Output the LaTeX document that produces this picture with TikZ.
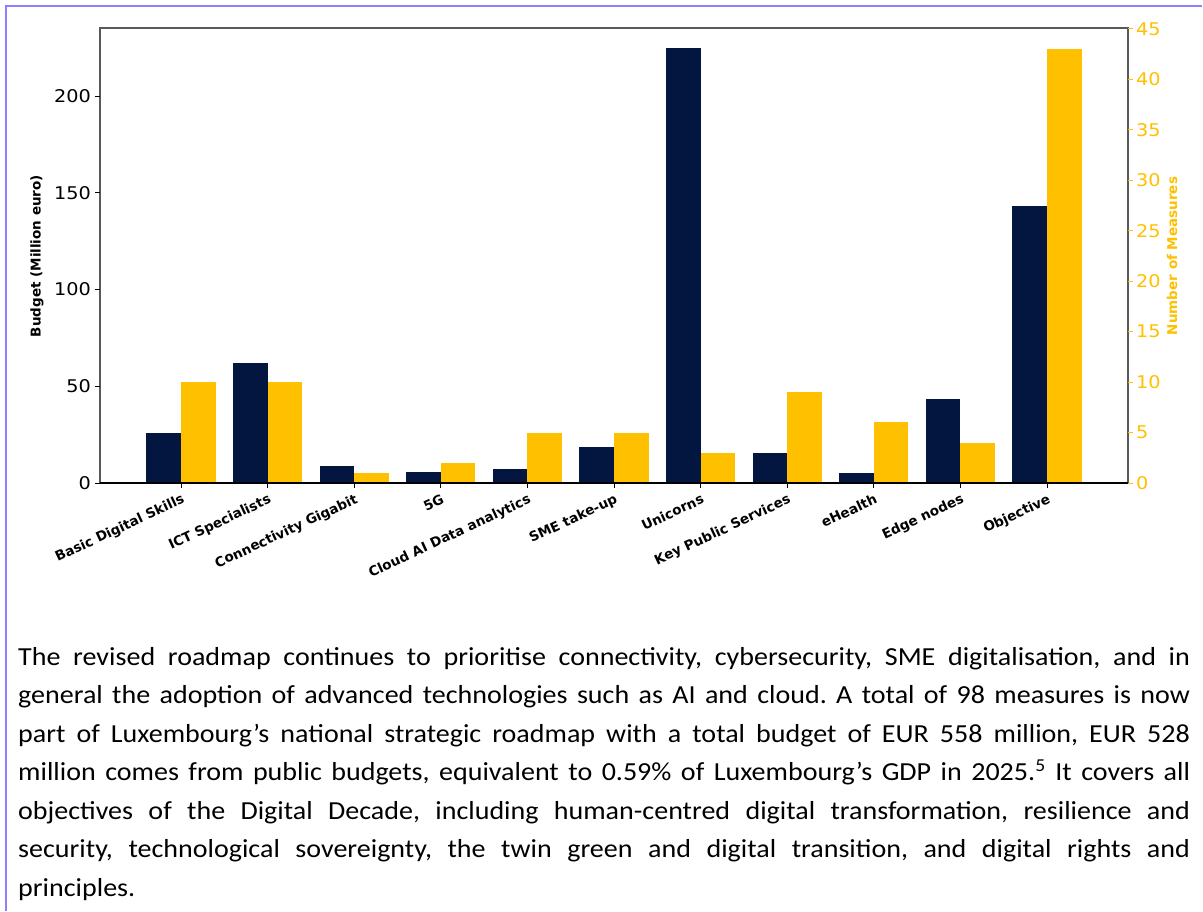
\documentclass[tikz,border=0pt]{standalone}
\usepackage{fontspec}
\setmainfont{Carlito}
\newfontfamily\plotfont{DejaVu Sans}
\usetikzlibrary{positioning}
\definecolor{navy}{RGB}{2,22,64}
\definecolor{amber}{RGB}{255,192,0}
\definecolor{pageframe}{RGB}{140,128,255}
\newcommand{\budy}[1]{483-1.935*#1}
\newcommand{\measy}[1]{483-10.09*#1}

\begin{document}
\begin{tikzpicture}[x=1pt, y=-1pt,
  ticklab/.style={font=\plotfont\fontsize{17.5}{20}\selectfont, xscale=1.1, inner sep=0pt},
  catlab/.style={font=\plotfont\bfseries\fontsize{13.5}{16}\selectfont,
                 rotate=25, anchor=north east, inner sep=0pt},
  axlab/.style={font=\plotfont\bfseries\fontsize{13.5}{16}\selectfont,
                rotate=90, inner sep=0pt}]
\fill[white] (0,0) rectangle (1203,911);
\useasboundingbox (0,0) rectangle (1203,911);
\draw[pageframe, line width=2pt] (6,911) -- (6,6) -- (1202,6);

% bars: budget / measures
\foreach \b/\m [count=\i from 0] in {26/10, 62/10, 9/1, 5.5/2, 7/5, 18.6/5,
                                     225/3, 15.5/9, 5/6, 43.4/4, 143.2/43}
{
  \pgfmathsetmacro{\xc}{181+86.6*\i}
  \fill[navy] (\xc-34.6,483) rectangle (\xc,{\budy{\b}});
  \fill[amber] (\xc,483) rectangle (\xc+34.6,{\measy{\m}});
  \draw[line width=1pt] (\xc,483) -- (\xc,488);
}
\foreach \lab [count=\i from 0] in {Basic Digital Skills, ICT Specialists,
    Connectivity Gigabit, 5G, Cloud AI Data analytics, SME take-up, Unicorns,
    Key Public Services, eHealth, Edge nodes, Objective}
  \node[catlab] (cat\i) at ({181+86.6*\i},493) {\lab};

\draw[black!65, line width=1.2pt] (100,483) -- (100,28) -- (1128,28) -- (1128,483);
\draw[line width=1.2pt] (100,483) -- (1128,483);

\foreach \v in {0,50,...,200}
{
  \draw[line width=1pt] (95,{\budy{\v}}) -- (100,{\budy{\v}});
  \node[ticklab, anchor=east] (bud\v) at (91,{\budy{\v}}) {\v};
}
\foreach \n in {0,5,...,45}
{
  \draw[amber, line width=1pt] (1128,{\measy{\n}}) -- (1133,{\measy{\n}});
  \node[ticklab, amber, anchor=west] (meas\n) at (1136,{\measy{\n}}) {\n};
}
\node[axlab] (budget) at (37,256) {Budget (Million euro)};
\node[axlab, amber] (measures) at (1172,256) {Number of Measures};

\node[anchor=base west, text width=1087pt, align=justify, inner sep=0pt, xscale=1.078,
      font=\frenchspacing\fontsize{26}{38.5}\selectfont] (para) at (18,665)
{The revised roadmap continues to prioritise connectivity, cybersecurity, SME digitalisation, and in\linebreak
general the adoption of advanced technologies such as AI and cloud. A total of 98 measures is now\linebreak
part of Luxembourg’s national strategic roadmap with a total budget of EUR 558 million, EUR 528\linebreak
million comes from public budgets, equivalent to 0.59\% of Luxembourg’s GDP in 2025.\textsuperscript{5} It covers all\linebreak
objectives of the Digital Decade, including human-centred digital transformation, resilience and\linebreak
security, technological sovereignty, the twin green and digital transition, and digital rights and\linebreak
principles.};
\end{tikzpicture}
\end{document}
